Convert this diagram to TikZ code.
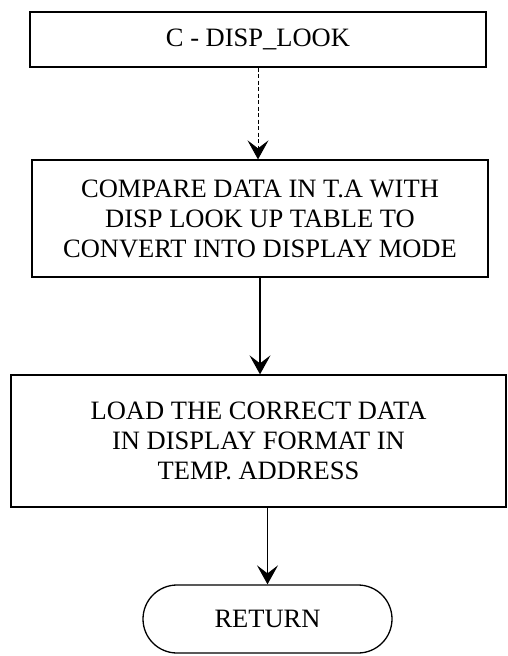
\documentclass[tikz,border=0pt]{standalone}
\usepackage{fontspec}
\setmainfont{Liberation Serif}
\usetikzlibrary{arrows.meta}
\begin{document}
\begin{tikzpicture}[x=1pt,y=-1pt,
  font=\fontsize{26.5}{30}\selectfont,
  procbox/.style={draw, line width=1.3pt, rectangle, align=center, inner sep=0pt},
  termbox/.style={draw, line width=1.3pt, rounded corners=34pt, align=center, inner sep=0pt,
    minimum width=249pt, minimum height=68pt},
  flow/.style={line width=1.2pt, -{Stealth[length=19pt,width=21pt,inset=8pt]}},
  faintflow/.style={flow, line width=0.8pt, dash pattern=on 4pt off 2.5pt}]
  \useasboundingbox (0,0) rectangle (508,656);

  % process boxes
  \node[procbox, minimum width=456pt, minimum height=55pt] (head) at (258,39.5) {C - DISP\_LOOK};
  \node[procbox, minimum width=456pt, minimum height=117pt] (cmp) at (260,218.5)
    {COMPARE DATA IN T.A WITH\\DISP LOOK UP TABLE TO\\CONVERT INTO DISPLAY MODE};
  \node[procbox, minimum width=495pt, minimum height=132pt] (load) at (258.5,441)
    {LOAD THE CORRECT DATA\\IN DISPLAY FORMAT IN\\TEMP. ADDRESS};

  % terminator
  \node[termbox] (ret) at (267.5,619) {RETURN};

  % connectors
  \draw[faintflow] (head.south) -- (head.south |- cmp.north);
  \draw[flow] (cmp.south) -- (cmp.south |- load.north);
  \draw[flow] (ret.north |- load.south) -- (ret.north);
\end{tikzpicture}
\end{document}
